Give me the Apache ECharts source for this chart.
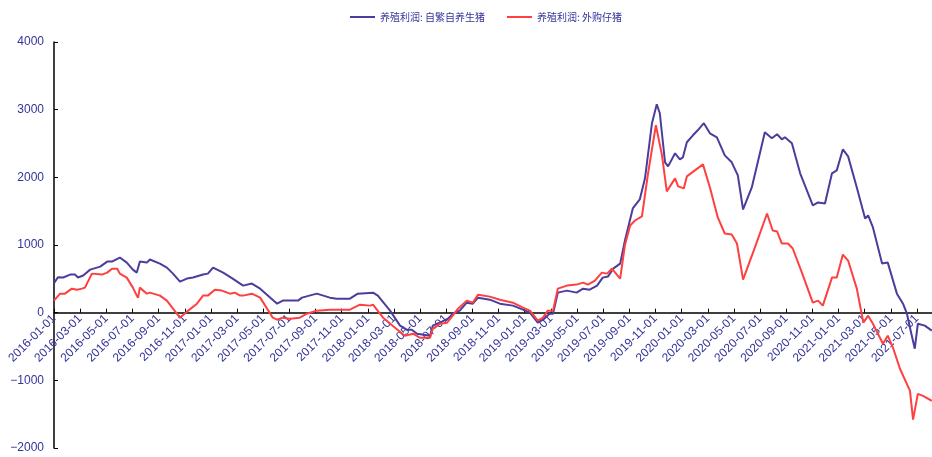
<!DOCTYPE html>
<html>
<head>
<meta charset="utf-8">
<script src="https://cdn.jsdelivr.net/npm/echarts@6/dist/echarts.min.js"></script>
<style>
  html, body { margin: 0; padding: 0; background: #fff; }
  #chart { width: 932px; height: 457px; }
</style>
</head>
<body>
<div id="chart"></div>
<script>
// 养殖利润: 自繁自养生猪
const selfDates = ['2016-01-01','2016-01-10','2016-01-22','2016-02-08','2016-02-19','2016-02-26','2016-03-08','2016-03-24','2016-04-17','2016-05-03',
  '2016-05-14','2016-06-02','2016-06-18','2016-07-02','2016-07-11','2016-07-18','2016-08-04','2016-08-11','2016-09-04','2016-09-20',
  '2016-10-04','2016-10-20','2016-11-06','2016-11-20','2016-12-13','2016-12-24','2017-01-06','2017-01-29','2017-02-21','2017-03-08',
  '2017-03-15','2017-04-05','2017-04-24','2017-06-03','2017-06-16','2017-07-21','2017-07-30','2017-09-04','2017-10-04','2017-10-20',
  '2017-11-20','2017-12-08','2018-01-13','2018-01-24','2018-02-22','2018-03-15','2018-03-30','2018-04-12','2018-04-24','2018-05-24',
  '2018-05-30','2018-06-21','2018-07-05','2018-07-16','2018-08-02','2018-08-18','2018-09-02','2018-09-14','2018-10-11','2018-11-04',
  '2018-12-04','2018-12-27','2019-01-13','2019-02-01','2019-02-13','2019-02-28','2019-03-06','2019-03-17','2019-04-08','2019-04-30',
  '2019-05-15','2019-05-30','2019-06-17','2019-06-30','2019-07-12','2019-07-24','2019-08-10','2019-08-21','2019-09-09','2019-09-25',
  '2019-10-07','2019-10-23','2019-11-04','2019-11-11','2019-11-23','2019-11-30','2019-12-16','2019-12-27','2020-01-04','2020-01-13',
  '2020-01-27','2020-02-08','2020-02-22','2020-03-06','2020-03-22','2020-04-10','2020-04-26','2020-05-10','2020-05-22','2020-06-12',
  '2020-07-12','2020-07-28','2020-08-10','2020-08-21','2020-08-28','2020-09-14','2020-10-03','2020-11-02','2020-11-14','2020-11-30',
  '2020-12-16','2020-12-27','2021-01-11','2021-01-23','2021-02-13','2021-03-02','2021-03-09','2021-03-20','2021-04-11','2021-04-24',
  '2021-05-15','2021-05-29','2021-06-08','2021-06-15','2021-06-26','2021-07-03','2021-07-19','2021-08-05'];
const selfValues = [434,523,520,563,563,520,550,636,680,755,
  755,815,740,636,592,755,740,785,725,666,
  577,459,504,520,563,577,666,592,504,430,
  400,430,355,133,178,178,222,281,222,207,
  207,281,296,252,30,-192,-252,-252,-311,-340,
  -192,-133,-89,-15,30,148,133,222,192,133,
  104,44,0,-148,-104,-15,-15,296,326,296,
  355,340,400,518,533,650,725,1066,1540,1673,
  1985,2800,3080,2947,2222,2162,2355,2266,2296,2518,
  2621,2695,2800,2651,2592,2325,2222,2029,1525,1851,
  2666,2577,2636,2562,2592,2503,2059,1585,1629,1614,
  2059,2103,2414,2310,1851,1392,1437,1259,725,740,
  281,133,-15,-222,-533,-163,-192,-266];

// 养殖利润: 外购仔猪
const buyDates = ['2016-01-01','2016-01-15','2016-01-26','2016-02-12','2016-02-24','2016-03-05','2016-03-12','2016-03-28','2016-04-21','2016-05-03',
  '2016-05-14','2016-05-26','2016-06-02','2016-06-18','2016-07-02','2016-07-11','2016-07-14','2016-07-18','2016-08-04','2016-08-11',
  '2016-09-04','2016-09-20','2016-10-04','2016-10-20','2016-11-06','2016-11-29','2016-12-13','2016-12-24','2017-01-10','2017-01-26',
  '2017-02-15','2017-02-26','2017-03-08','2017-03-15','2017-04-05','2017-04-24','2017-05-23','2017-06-03','2017-06-16','2017-07-02',
  '2017-07-25','2017-08-11','2017-09-04','2017-10-04','2017-11-20','2017-12-13','2018-01-06','2018-01-13','2018-02-06','2018-02-28',
  '2018-03-26','2018-04-15','2018-04-30','2018-05-24','2018-05-30','2018-06-17','2018-07-03','2018-07-14','2018-07-28','2018-08-18',
  '2018-09-02','2018-09-14','2018-10-11','2018-11-04','2018-12-04','2018-12-27','2019-01-13','2019-02-01','2019-02-13','2019-02-24',
  '2019-03-06','2019-03-17','2019-04-08','2019-04-30','2019-05-15','2019-05-26','2019-06-12','2019-06-28','2019-07-10','2019-07-21',
  '2019-08-10','2019-08-21','2019-09-03','2019-09-14','2019-09-30','2019-10-14','2019-11-02','2019-11-16','2019-11-27','2019-12-16',
  '2019-12-23','2020-01-06','2020-01-13','2020-02-20','2020-03-06','2020-03-24','2020-04-10','2020-04-26','2020-05-08','2020-05-22',
  '2020-06-19','2020-07-17','2020-07-30','2020-08-10','2020-08-21','2020-09-05','2020-09-16','2020-10-07','2020-11-02','2020-11-14',
  '2020-11-25','2020-12-16','2020-12-27','2021-01-11','2021-01-23','2021-02-13','2021-02-28','2021-03-09','2021-03-20','2021-04-06',
  '2021-04-13','2021-04-24','2021-05-06','2021-05-22','2021-06-15','2021-06-22','2021-07-03','2021-07-15','2021-08-05'];
const buyValues = [178,281,281,355,340,355,370,577,563,592,
  650,650,577,518,370,252,222,370,281,296,
  252,178,59,-74,15,133,252,252,340,326,
  281,296,252,252,281,222,-74,-104,-74,-89,
  -74,-15,30,44,44,118,104,118,-74,-192,
  -340,-311,-370,-370,-237,-163,-148,-59,59,178,
  148,266,237,192,148,74,30,-118,-74,30,
  30,355,400,415,444,415,474,592,577,650,
  503,1000,1289,1362,1422,2059,2770,2325,1792,1985,
  1866,1836,2014,2192,1851,1407,1170,1155,1022,488,
  962,1466,1214,1200,1022,1022,948,592,148,178,
  104,518,518,859,770,355,-148,-44,-163,-370,
  -459,-340,-518,-829,-1155,-1580,-1200,-1229,-1303];

const seriesNames = ['养殖利润: 自繁自养生猪', '养殖利润: 外购仔猪'];
const yTicks = { min: -2000, max: 4000, step: 1000 };

// months since 2016-01
function toMonth(s) {
  const p = s.split('-').map(Number);
  return (p[0] - 2016) * 12 + (p[1] - 1) + (p[2] - 1) / 30;
}
function pairs(dates, vals) {
  return dates.map((d, i) => [toMonth(d), vals[i]]);
}

const labelColor = '#33339a';
const gridTop = 42, gridBottom = 9, chartH = 457;
const plotH = chartH - gridTop - gridBottom;
// shift the x axis (line, ticks, labels) up to the zero line
const zeroOffset = -plotH * (0 - yTicks.min) / (yTicks.max - yTicks.min);

const chart = echarts.init(document.getElementById('chart'));
chart.setOption({
  animation: false,
  legend: {
    left: 345,
    top: 7,
    itemWidth: 25,
    itemHeight: 2,
    itemGap: 22,
    icon: 'rect',
    textStyle: { fontSize: 10, color: labelColor, fontFamily: 'Noto Sans CJK SC' },
    data: seriesNames
  },
  grid: { left: 54, right: 0, top: gridTop, bottom: gridBottom, containLabel: false, outerBoundsMode: 'none' },
  xAxis: {
    type: 'value',
    min: 0,
    max: 67.15,
    interval: 2,
    offset: zeroOffset,
    splitLine: { show: false },
    axisLine: { onZero: false, lineStyle: { color: '#000', width: 1.5 } },
    axisTick: { inside: true, length: 4, lineStyle: { color: '#000' } },
    axisLabel: {
      rotate: 45,
      margin: 4,
      fontSize: 12,
      fontFamily: 'Liberation Sans',
      color: labelColor,
      formatter: function (v) {
        if (Math.abs(v - Math.round(v)) > 1e-6 || Math.round(v) % 2 !== 0) return '';
        const m = Math.round(v);
        const y = 2016 + Math.floor(m / 12);
        const mo = (m % 12) + 1;
        return y + '-' + (mo < 10 ? '0' + mo : mo) + '-01';
      }
    }
  },
  yAxis: {
    type: 'value',
    min: yTicks.min,
    max: yTicks.max,
    interval: yTicks.step,
    splitLine: { show: false },
    axisLine: { show: true, lineStyle: { color: '#000', width: 1.5 } },
    axisTick: { show: true, inside: true, length: 4, lineStyle: { color: '#000' } },
    axisLabel: {
      fontSize: 12, fontFamily: 'Liberation Sans', color: labelColor, margin: 10,
      formatter: function (v) { return String(v).replace('-', '\u2212'); }
    }
  },
  series: [
    {
      name: seriesNames[0],
      type: 'line',
      symbol: 'none',
      lineStyle: { width: 2, color: '#4b3d9c' },
      itemStyle: { color: '#4b3d9c' },
      data: pairs(selfDates, selfValues)
    },
    {
      name: seriesNames[1],
      type: 'line',
      symbol: 'none',
      lineStyle: { width: 2, color: '#ff4040' },
      itemStyle: { color: '#ff4040' },
      data: pairs(buyDates, buyValues)
    }
  ]
});
</script>
</body>
</html>
